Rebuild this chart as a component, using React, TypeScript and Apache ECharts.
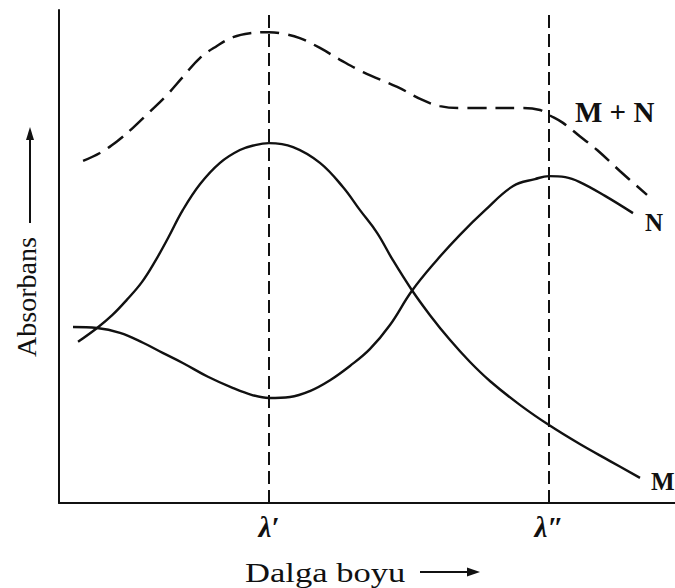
import React, { useEffect, useRef } from "react";
import * as echarts from "echarts";

// Wavelength positions of the two analytical wavelengths
const LAMBDA_1 = 37.5;
const LAMBDA_2 = 87.5;
const tickLabels = ["λ′", "λ″"];

// Mixture spectrum (M + N)
const wavelengthMN = [4.3, 7.3, 10.4, 13.2, 16.25, 19.3, 22.1, 25.2, 28.2, 31.1, 34.1, 37.5, 40.4, 43.0, 46.6, 50.2, 54.3, 60.4, 65.0, 68.0, 71.6, 75.2, 82.9, 85.9, 87.5, 90.0, 93.0, 96.1, 100.2, 105.0];
const absorbanceMN = [69.4, 71.0, 73.4, 76.1, 79.4, 82.8, 86.4, 90.3, 92.7, 94.5, 95.3, 95.5, 95.1, 94.3, 92.3, 89.9, 87.4, 84.4, 81.7, 80.5, 80.1, 80.1, 80.1, 79.7, 78.7, 77.1, 74.4, 71.6, 67.3, 62.5];

// Component M
const wavelengthM = [3.4, 6.8, 9.5, 12.1, 14.8, 17.1, 19.5, 22.1, 25.2, 28.75, 32.3, 35.0, 37.5, 41.8, 46.6, 50.7, 53.75, 56.8, 59.6, 63.0, 66.25, 69.8, 73.4, 77.0, 82.3, 87.5, 93.0, 98.4, 103.75];
const absorbanceM = [32.7, 35.5, 38.1, 41.2, 44.8, 48.9, 53.8, 59.4, 64.7, 69.0, 71.6, 72.6, 73.0, 72.2, 69.0, 64.1, 59.4, 54.8, 49.3, 43.2, 38.1, 33.1, 28.6, 24.7, 19.9, 15.8, 11.95, 8.5, 5.1];

// Component N
const wavelengthN = [2.5, 6.8, 10.9, 15.0, 18.6, 22.1, 26.6, 31.1, 34.5, 37.5, 41.25, 44.8, 48.4, 51.96, 55.5, 59.1, 63.0, 67.5, 71.6, 76.1, 81.1, 85.0, 87.5, 90.4, 93.0, 97.5, 102.5];
const absorbanceN = [35.7, 35.5, 34.5, 32.5, 30.4, 28.4, 25.6, 23.3, 21.9, 21.3, 21.5, 22.7, 24.9, 27.8, 31.2, 36.1, 43.0, 49.3, 54.4, 59.4, 64.3, 65.7, 66.3, 66.1, 65.1, 62.3, 58.8];

const SERIF = "'Liberation Serif', 'Times New Roman', serif";
const INK = "#111";

const pairs = (xs: number[], ys: number[]) => xs.map((x, i) => [x, ys[i]]);

export default function App() {
  const ref = useRef<HTMLDivElement>(null);

  useEffect(() => {
    if (!ref.current) return;
    const chart = echarts.init(ref.current, null, { renderer: "svg" });

    const mnData: any[] = pairs(wavelengthMN, absorbanceMN).map((p) =>
      p[0] === LAMBDA_2
        ? {
            value: p,
            label: {
              show: true,
              position: "right",
              distance: 26,
              offset: [0, -3],
              formatter: "M + N",
              fontFamily: SERIF,
              fontWeight: "bold",
              fontSize: 29,
              color: INK,
            },
          }
        : { value: p }
    );

    chart.setOption({
      animation: false,
      backgroundColor: "#fff",
      grid: { left: 59, right: 0, top: 10, bottom: 85 },
      xAxis: {
        type: "value",
        min: 0,
        max: 110,
        axisLine: { show: true, lineStyle: { color: INK, width: 2 } },
        axisTick: { show: false },
        splitLine: { show: false },
        axisLabel: {
          customValues: [LAMBDA_1, LAMBDA_2],
          formatter: (v: number) => (v === LAMBDA_1 ? tickLabels[0] : tickLabels[1]),
          margin: 9,
          fontFamily: SERIF,
          fontStyle: "italic",
          fontWeight: "bold",
          fontSize: 29,
          color: INK,
        },
      },
      yAxis: {
        type: "value",
        min: 0,
        max: 100,
        axisLine: { show: true, lineStyle: { color: INK, width: 2 } },
        axisTick: { show: false },
        axisLabel: { show: false },
        splitLine: { show: false },
      },
      series: [
        {
          name: "M + N",
          type: "line",
          data: mnData,
          smooth: 0.4,
          showSymbol: true,
          symbol: "circle",
          symbolSize: 0,
          lineStyle: { color: INK, width: 2.5, type: [19, 9] },
          itemStyle: { color: INK },
        },
        {
          name: "M",
          type: "line",
          data: pairs(wavelengthM, absorbanceM),
          smooth: 0.4,
          showSymbol: false,
          lineStyle: { color: INK, width: 2.4 },
          endLabel: {
            show: true,
            formatter: "M",
            distance: 11,
            offset: [0, 4],
            fontFamily: SERIF,
            fontWeight: "bold",
            fontSize: 25,
            color: INK,
          },
          markLine: {
            silent: true,
            symbol: "none",
            label: { show: false },
            lineStyle: { color: INK, width: 2, type: [13, 6] },
            data: [{ xAxis: LAMBDA_1 }, { xAxis: LAMBDA_2 }],
          },
        },
        {
          name: "N",
          type: "line",
          data: pairs(wavelengthN, absorbanceN),
          smooth: 0.4,
          showSymbol: false,
          lineStyle: { color: INK, width: 2.4 },
          endLabel: {
            show: true,
            formatter: "N",
            distance: 12,
            offset: [0, 9],
            fontFamily: SERIF,
            fontWeight: "bold",
            fontSize: 25,
            color: INK,
          },
        },
      ],
      graphic: [
        {
          type: "text",
          x: 245,
          y: 573,
          scaleX: 1.28,
          style: {
            text: "Dalga boyu",
            font: `27px ${SERIF}`,
            fill: INK,
            align: "left",
            verticalAlign: "middle",
          },
        },
        {
          type: "line",
          shape: { x1: 420, y1: 572, x2: 470, y2: 572 },
          style: { stroke: INK, lineWidth: 2 },
        },
        {
          type: "polygon",
          shape: { points: [[480, 572], [467, 567.5], [467, 576.5]] },
          style: { fill: INK },
        },
        {
          type: "text",
          x: 26,
          y: 297,
          rotation: Math.PI / 2,
          style: {
            text: "Absorbans",
            font: `28px ${SERIF}`,
            fill: INK,
            align: "center",
            verticalAlign: "middle",
          },
        },
        {
          type: "line",
          shape: { x1: 30, y1: 223, x2: 30, y2: 138 },
          style: { stroke: INK, lineWidth: 2 },
        },
        {
          type: "polygon",
          shape: { points: [[30, 127], [26, 140], [34, 140]] },
          style: { fill: INK },
        },
      ],
    });

    return () => chart.dispose();
  }, []);

  return (
    <div
      ref={ref}
      style={{ position: "fixed", left: 0, top: 0, width: 675, height: 588, background: "#fff" }}
    />
  );
}
